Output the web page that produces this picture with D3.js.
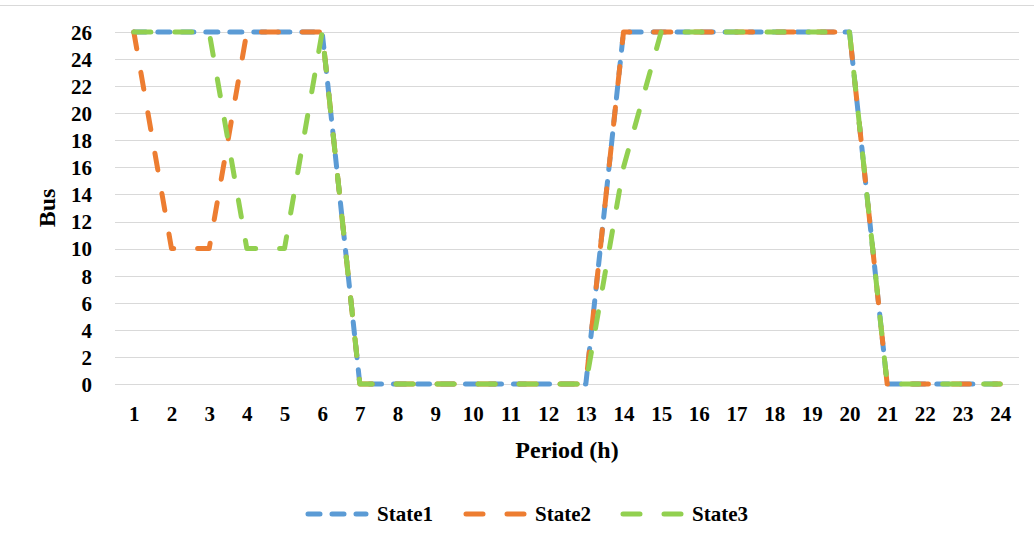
<!DOCTYPE html>
<html>
<head>
<meta charset="utf-8">
<script src="https://cdn.jsdelivr.net/npm/d3@7"></script>
<style>
  body { margin: 0; background: #fff; }
</style>
</head>
<body>
<div id="chart"></div>
<script>
// data
var periods = d3.range(1, 25);
var yTicks = d3.range(0, 27, 2);
var seriesNames = ["State1", "State2", "State3"];
var state1 = [26, 26, 26, 26, 26, 26, 0, 0, 0, 0, 0, 0, 0, 26, 26, 26, 26, 26, 26, 26, 0, 0, 0, 0];
var state2 = [26, 10, 10, 26, 26, 26, 0, 0, 0, 0, 0, 0, 0, 26, 26, 26, 26, 26, 26, 26, 0, 0, 0, 0];
var state3 = [26, 26, 26, 10, 10, 26, 0, 0, 0, 0, 0, 0, 0, 16, 26, 26, 26, 26, 26, 26, 0, 0, 0, 0];

var total_width = 1034, total_height = 546;
var plot = {left: 115, right: 1019, top: 32, bottom: 384};
var fontFamily = "'Liberation Serif', 'Times New Roman', Tinos, 'DejaVu Serif', serif";

var colors = ["#5b9bd5", "#ed7d31", "#92d050"];
var dashes = ["12,12", "17,24", "17,24"];

var svg = d3.select("#chart").append("svg")
    .attr("width", total_width)
    .attr("height", total_height);

// chart frame top line
svg.append("line")
    .attr("x1", 0).attr("x2", total_width)
    .attr("y1", 5.5).attr("y2", 5.5)
    .style("stroke", "#d9d9d9")
    .style("stroke-width", 1);

var x = d3.scalePoint()
    .domain(periods)
    .range([plot.left, plot.right])
    .padding(0.5);

var y = d3.scaleLinear()
    .domain([0, 26])
    .range([plot.bottom, plot.top]);

// gridlines
svg.append("g")
  .selectAll("line")
  .data(yTicks)
  .enter()
  .append("line")
    .attr("x1", plot.left)
    .attr("x2", plot.right)
    .attr("y1", d => Math.round(y(d)) + 0.5)
    .attr("y2", d => Math.round(y(d)) + 0.5)
    .style("stroke", "#d9d9d9")
    .style("stroke-width", 1);

// y axis labels
var yAxis = svg.append("g")
    .attr("transform", "translate(" + (plot.left - 23) + ",0)")
    .call(d3.axisLeft(y).tickValues(yTicks).tickSize(0).tickPadding(0));
yAxis.select(".domain").remove();

// x axis labels
var xAxis = svg.append("g")
    .attr("transform", "translate(0," + plot.bottom + ")")
    .call(d3.axisBottom(x).tickSize(0).tickPadding(22));
xAxis.select(".domain").remove();

// axis titles
svg.append("text")
    .attr("class", "axis-title")
    .attr("x", 567)
    .attr("y", 458)
    .attr("text-anchor", "middle")
    .style("font-size", "24px")
    .text("Period (h)");

svg.append("text")
    .attr("class", "axis-title")
    .attr("transform", "translate(55,208) rotate(-90)")
    .attr("text-anchor", "middle")
    .style("font-size", "24px")
    .text("Bus");

// lines
var line = d3.line()
    .x((d, i) => x(periods[i]))
    .y(d => y(d));

var allSeries = [state1, state2, state3];
allSeries.forEach(function(s, i) {
  svg.append("path")
      .datum(s)
      .attr("fill", "none")
      .attr("stroke", colors[i])
      .attr("stroke-width", 5)
      .attr("stroke-dasharray", dashes[i])
      .attr("stroke-linecap", "round")
      .attr("stroke-linejoin", "round")
      .attr("d", line);
});

// legend
var legendX = [308, 466, 623];
var legend = svg.append("g")
  .selectAll("g")
  .data(seriesNames)
  .enter()
  .append("g")
    .attr("transform", (d, i) => "translate(" + legendX[i] + ",514)");

legend.append("line")
    .attr("x1", 0).attr("x2", 58)
    .attr("y1", 0).attr("y2", 0)
    .attr("stroke", (d, i) => colors[i])
    .attr("stroke-width", 5)
    .attr("stroke-dasharray", (d, i) => dashes[i])
    .attr("stroke-linecap", "round");

legend.append("text")
    .attr("x", 69)
    .attr("y", 7)
    .style("font-size", "21px")
    .text(d => d);

// all text: bold serif
svg.selectAll("text")
    .attr("font-family", null)
    .style("font-family", fontFamily)
    .style("font-weight", "bold")
    .style("fill", "#000");
yAxis.selectAll("text").style("font-size", "21px").attr("dy", "0.35em");
xAxis.selectAll("text").style("font-size", "21px");
</script>
</body>
</html>
